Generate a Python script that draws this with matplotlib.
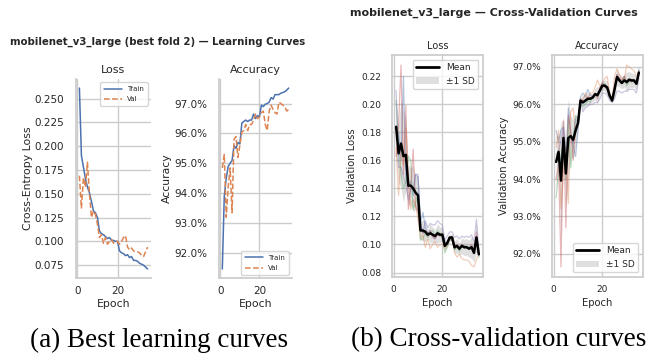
import numpy as np
import matplotlib
matplotlib.use("Agg")
import matplotlib.pyplot as plt
import seaborn as sns
from matplotlib.patches import Patch
from matplotlib.lines import Line2D

sns.set_theme(style="whitegrid")
plt.rcParams["font.family"] = ["DejaVu Sans"]

epochs = np.arange(1, 36)

# best fold (fold 2) learning curves
train_loss = [0.261, 0.190, 0.178, 0.166, 0.157, 0.151, 0.142, 0.132, 0.130, 0.125,
              0.111, 0.108, 0.107, 0.105, 0.103, 0.104, 0.101, 0.101, 0.100, 0.100,
              0.090, 0.088, 0.087, 0.085, 0.086, 0.083, 0.084, 0.080, 0.080, 0.079,
              0.077, 0.076, 0.075, 0.073, 0.071]
val_loss = [0.169, 0.135, 0.167, 0.157, 0.183, 0.150, 0.125, 0.132, 0.128, 0.118,
            0.104, 0.107, 0.098, 0.104, 0.097, 0.100, 0.102, 0.098, 0.100, 0.100,
            0.097, 0.100, 0.104, 0.106, 0.094, 0.091, 0.093, 0.090, 0.089, 0.089,
            0.088, 0.085, 0.084, 0.089, 0.094]
train_acc = [91.47, 93.90, 94.50, 94.90, 95.00, 95.10, 95.60, 95.50, 95.70, 95.65,
             96.35, 96.40, 96.45, 96.40, 96.45, 96.45, 96.65, 96.50, 96.60, 96.55,
             96.95, 96.90, 96.98, 97.00, 97.05, 97.20, 97.15, 97.30, 97.30, 97.30,
             97.35, 97.37, 97.40, 97.45, 97.52]
val_acc = [94.85, 95.30, 93.20, 94.20, 94.85, 93.35, 95.80, 95.90, 95.20, 95.60,
           96.05, 96.10, 96.30, 96.10, 96.30, 96.30, 96.45, 96.65, 96.50, 96.55,
           96.70, 96.75, 96.30, 96.10, 96.75, 96.95, 96.80, 96.70, 96.65, 97.05,
           97.00, 96.95, 96.90, 96.75, 96.80]

# validation curves of the other folds
cv_loss_f1 = [0.175, 0.180, 0.160, 0.220, 0.150, 0.140, 0.145, 0.135, 0.150, 0.148,
              0.115, 0.123, 0.112, 0.108, 0.110, 0.106, 0.104, 0.108, 0.106, 0.107,
              0.102, 0.101, 0.104, 0.103, 0.097, 0.099, 0.096, 0.100, 0.099, 0.098,
              0.098, 0.099, 0.095, 0.104, 0.092]
cv_loss_f3 = [0.203, 0.170, 0.150, 0.140, 0.145, 0.163, 0.160, 0.125, 0.130, 0.135,
              0.103, 0.104, 0.108, 0.105, 0.108, 0.110, 0.106, 0.110, 0.108, 0.106,
              0.094, 0.098, 0.103, 0.104, 0.096, 0.099, 0.095, 0.099, 0.098, 0.099,
              0.097, 0.099, 0.094, 0.105, 0.091]
cv_loss_f4 = [0.163, 0.185, 0.228, 0.150, 0.199, 0.125, 0.140, 0.168, 0.127, 0.124,
              0.112, 0.108, 0.110, 0.106, 0.110, 0.105, 0.104, 0.107, 0.106, 0.108,
              0.099, 0.100, 0.105, 0.103, 0.098, 0.100, 0.097, 0.100, 0.099, 0.098,
              0.097, 0.100, 0.095, 0.109, 0.093]
cv_loss_f5 = [0.210, 0.155, 0.155, 0.148, 0.143, 0.132, 0.140, 0.140, 0.150, 0.150,
              0.116, 0.108, 0.117, 0.112, 0.115, 0.114, 0.114, 0.117, 0.115, 0.114,
              0.103, 0.106, 0.109, 0.109, 0.105, 0.106, 0.104, 0.106, 0.105, 0.106,
              0.105, 0.107, 0.102, 0.118, 0.095]

cv_acc_f1 = [95.30, 95.00, 95.30, 95.40, 94.40, 95.90, 95.20, 94.90, 94.60, 95.30,
             96.20, 96.30, 96.20, 96.40, 96.25, 96.20, 96.30, 96.20, 96.40, 96.60,
             96.50, 96.40, 96.25, 96.10, 96.35, 96.80, 96.70, 96.60, 96.75, 96.55,
             96.65, 96.60, 96.65, 96.55, 96.95]
cv_acc_f3 = [93.50, 94.20, 94.60, 95.00, 94.00, 95.60, 94.30, 95.00, 95.70, 95.60,
             96.00, 95.95, 96.00, 96.10, 96.05, 96.20, 96.25, 96.20, 96.35, 96.50,
             96.55, 96.45, 96.20, 96.15, 96.40, 96.75, 96.65, 96.60, 96.70, 96.50,
             96.60, 96.65, 96.60, 96.60, 96.90]
cv_acc_f4 = [94.00, 94.40, 91.65, 95.55, 92.70, 95.70, 95.30, 94.50, 95.40, 95.50,
             96.15, 96.10, 96.10, 96.20, 96.15, 96.20, 96.30, 96.15, 96.45, 96.55,
             96.45, 96.40, 96.30, 96.10, 96.35, 96.80, 96.70, 96.65, 96.75, 96.55,
             96.65, 96.60, 96.65, 96.55, 96.90]
cv_acc_f5 = [94.65, 94.75, 95.05, 95.35, 94.80, 94.95, 95.15, 94.95, 95.60, 95.50,
             96.10, 95.80, 95.90, 95.95, 96.00, 96.00, 96.05, 96.05, 96.15, 96.30,
             96.30, 96.25, 96.10, 96.05, 96.15, 96.35, 96.35, 96.30, 96.35, 96.35,
             96.40, 96.40, 96.40, 96.30, 96.70]

cv_loss = np.array([cv_loss_f1, val_loss, cv_loss_f3, cv_loss_f4, cv_loss_f5])
cv_acc = np.array([cv_acc_f1, val_acc, cv_acc_f3, cv_acc_f4, cv_acc_f5])

W, H = 652, 362
fig = plt.figure(figsize=(W / 100, H / 100), dpi=100)


def box(x0, y0, x1, y1):
    # pixel box (top-left origin) -> figure fraction rect
    return [x0 / W, 1 - y1 / H, (x1 - x0) / W, (y1 - y0) / H]


pct = lambda v, _: f"{v:.1f}%"
pal = sns.color_palette("deep")

# ---- (a) best fold learning curves ----
axa1 = fig.add_axes(box(76, 79, 151, 278))
axa2 = fig.add_axes(box(219, 79, 292, 278))
for ax in (axa1, axa2):
    ax.spines["top"].set_visible(False)
    ax.spines["right"].set_visible(False)
    ax.tick_params(labelsize=7.5, length=0)
    ax.tick_params(axis="x", pad=6)
    ax.tick_params(axis="y", pad=8.5)
    ax.set_xlabel("Epoch", fontsize=7.8, labelpad=2)
    ax.set_xticks([0, 20])

axa1.plot(epochs, train_loss, color=pal[0], lw=1.1, label="Train")
axa1.plot(epochs, val_loss, color=pal[1], lw=1.1, ls="--", label="Val")
axa1.set_title("Loss", fontsize=8, pad=4)
axa1.set_ylabel("Cross-Entropy Loss", fontsize=7.8, labelpad=1)
axa1.set_yticks([0.075, 0.100, 0.125, 0.150, 0.175, 0.200, 0.225, 0.250])
axa1.yaxis.set_major_formatter(lambda v, _: f"{v:.3f}")
axa1.legend(loc="upper right", fontsize=5, handlelength=2.6, borderpad=0.5,
            labelspacing=0.6)

axa2.plot(epochs, train_acc, color=pal[0], lw=1.1, label="Train")
axa2.plot(epochs, val_acc, color=pal[1], lw=1.1, ls="--", label="Val")
axa2.set_title("Accuracy", fontsize=8, pad=4)
axa2.set_ylabel("Accuracy", fontsize=7.8, labelpad=1.5)
axa2.set_yticks([92, 93, 94, 95, 96, 97])
axa2.yaxis.set_major_formatter(pct)
axa2.legend(loc="lower right", fontsize=5, handlelength=2.6, borderpad=0.5,
            labelspacing=0.6)

fig.text(158 / W, 1 - 42 / H, "mobilenet_v3_large (best fold 2) — Learning Curves",
         ha="center", va="center", fontsize=7.3, fontweight="bold", color="#262626")

# ---- (b) cross-validation curves ----
axb1 = fig.add_axes(box(392, 55, 483, 277))
axb2 = fig.add_axes(box(552, 55, 643, 277))
fold_colors = [pal[0], pal[1], pal[2], pal[3], pal[4]]
handles = [Line2D([], [], color="black", lw=2),
           Patch(facecolor="gray", alpha=0.25, edgecolor="none")]

for ax, data, title, ylab in ((axb1, cv_loss, "Loss", "Validation Loss"),
                              (axb2, cv_acc, "Accuracy", "Validation Accuracy")):
    for i, fold in enumerate(data):
        ax.plot(epochs, fold, color=fold_colors[i], lw=0.9, alpha=0.4)
    mean = data.mean(axis=0)
    sd = data.std(axis=0, ddof=1)
    ax.fill_between(epochs, mean - sd, mean + sd, color="gray", alpha=0.25, lw=0)
    ax.plot(epochs, mean, color="black", lw=1.8)
    ax.set_title(title, fontsize=7, pad=4)
    ax.set_xlabel("Epoch", fontsize=7.2, labelpad=2.5)
    ax.set_xticks([0, 20])
    ax.tick_params(labelsize=6.5, length=0)
    ax.tick_params(axis="x", pad=6)

axb1.set_ylabel("Validation Loss", fontsize=7.2, labelpad=3.5)
axb1.tick_params(axis="y", pad=7.5)
axb1.set_yticks([0.08, 0.10, 0.12, 0.14, 0.16, 0.18, 0.20, 0.22])
axb1.yaxis.set_major_formatter(lambda v, _: f"{v:.2f}")
axb1.legend(handles, ["Mean", "±1 SD"], loc="upper right", fontsize=6.5,
            handlelength=2.5)
axb2.set_ylabel("Validation Accuracy", fontsize=7.2, labelpad=2.5)
axb2.tick_params(axis="y", pad=8)
axb2.set_yticks([92, 93, 94, 95, 96, 97])
axb2.yaxis.set_major_formatter(pct)
axb2.legend(handles, ["Mean", "±1 SD"], loc="lower right", fontsize=6.5,
            handlelength=2.5)

fig.text(494 / W, 1 - 13 / H, "mobilenet_v3_large — Cross-Validation Curves",
         ha="center", va="center", fontsize=8, fontweight="bold", color="#262626")

# captions
cap = dict(ha="center", va="center", fontsize=19.5, family="Liberation Serif", color="black")
fig.text(159 / W, 1 - 340 / H, "(a) Best learning curves", **cap)
fig.text(499 / W, 1 - 340 / H, "(b) Cross-validation curves", **cap)

fig.savefig("out.png", dpi=100)
